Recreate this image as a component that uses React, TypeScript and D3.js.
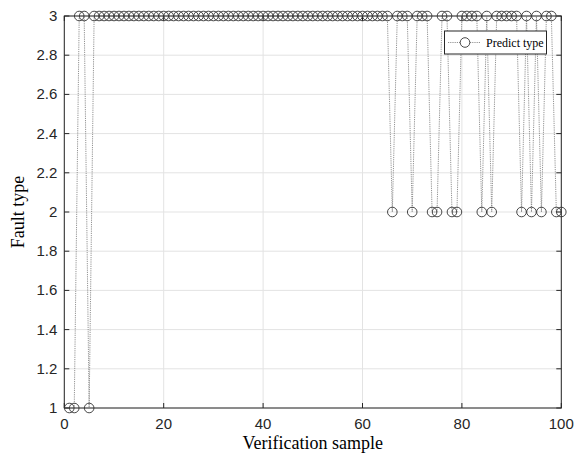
import React, { useEffect, useRef } from "react";
import * as d3 from "d3";

const samples: number[] = d3.range(1, 101);
const onesAt: number[] = [1, 2, 5];
const twosAt: number[] = [66, 70, 74, 75, 78, 79, 84, 86, 92, 94, 96, 99, 100];
const predicted: number[] = samples.map(s => (onesAt.includes(s) ? 1 : twosAt.includes(s) ? 2 : 3));
const xTicks: number[] = [0, 20, 40, 60, 80, 100];
const yTicks: number[] = [1, 1.2, 1.4, 1.6, 1.8, 2, 2.2, 2.4, 2.6, 2.8, 3];

const W = 574;
const H = 456;

const App = () => {
  const ref = useRef<SVGSVGElement>(null);

  useEffect(() => {
    const svg = d3.select(ref.current);
    svg.selectAll("*").remove();

    const left = 64.3, right = 561.3, top = 16, bottom = 408;
    const x = d3.scaleLinear().domain([0, 100]).range([left, right]);
    const y = d3.scaleLinear().domain([1, 3]).range([bottom, top]);

    svg.append("rect").attr("width", W).attr("height", H).attr("fill", "#fff");

    // grid
    const grid = svg.append("g").attr("stroke", "#e3e3e3").attr("stroke-width", 1);
    grid.selectAll(".gx").data(xTicks).enter().append("line")
      .attr("x1", d => x(d)).attr("x2", d => x(d)).attr("y1", top).attr("y2", bottom);
    grid.selectAll(".gy").data(yTicks).enter().append("line")
      .attr("x1", left).attr("x2", right).attr("y1", d => y(d)).attr("y2", d => y(d));

    // axes box
    svg.append("rect")
      .attr("x", left).attr("y", top).attr("width", right - left).attr("height", bottom - top)
      .attr("fill", "none").attr("stroke", "#262626").attr("stroke-width", 1);

    const tl = 5;
    const ticks = svg.append("g").attr("stroke", "#262626").attr("stroke-width", 1);
    xTicks.forEach(t => {
      ticks.append("line").attr("x1", x(t)).attr("x2", x(t)).attr("y1", bottom).attr("y2", bottom - tl);
      ticks.append("line").attr("x1", x(t)).attr("x2", x(t)).attr("y1", top).attr("y2", top + tl);
    });
    yTicks.forEach(t => {
      ticks.append("line").attr("x1", left).attr("x2", left + tl).attr("y1", y(t)).attr("y2", y(t));
      ticks.append("line").attr("x1", right).attr("x2", right - tl).attr("y1", y(t)).attr("y2", y(t));
    });

    const tickFont = "'Liberation Sans', Arial, sans-serif";
    svg.append("g").selectAll("text").data(xTicks).enter().append("text")
      .attr("x", d => x(d)).attr("y", bottom + 21)
      .attr("text-anchor", "middle").attr("font-family", tickFont).attr("font-size", 15)
      .attr("fill", "#262626").text(d => String(d));
    svg.append("g").selectAll("text").data(yTicks).enter().append("text")
      .attr("x", left - 7).attr("y", d => y(d) + 5)
      .attr("text-anchor", "end").attr("font-family", tickFont).attr("font-size", 15)
      .attr("fill", "#262626").text(d => d3.format("~g")(d));

    const labelFont = "'Liberation Serif', 'Times New Roman', serif";
    svg.append("text").attr("x", (left + right) / 2).attr("y", 449)
      .attr("text-anchor", "middle").attr("font-family", labelFont).attr("font-size", 18)
      .attr("fill", "#000").text("Verification sample");
    svg.append("text").attr("transform", `translate(24,${(top + bottom) / 2}) rotate(-90)`)
      .attr("text-anchor", "middle").attr("font-family", labelFont).attr("font-size", 18)
      .attr("fill", "#000").text("Fault type");

    // series
    const line = d3.line<number>().x((d, i) => x(samples[i])).y(d => y(d));
    svg.append("path").datum(predicted).attr("d", line)
      .attr("fill", "none").attr("stroke", "#777").attr("stroke-width", 0.8)
      .attr("stroke-dasharray", "1.2,1");
    svg.append("g").selectAll("circle").data(predicted).enter().append("circle")
      .attr("cx", (d, i) => x(samples[i])).attr("cy", d => y(d)).attr("r", 4.8)
      .attr("fill", "none").attr("stroke", "#333").attr("stroke-width", 0.9);

    // legend
    const lg = svg.append("g");
    lg.append("rect").attr("x", 444.5).attr("y", 31).attr("width", 102).attr("height", 23)
      .attr("fill", "#fff").attr("stroke", "#262626").attr("stroke-width", 1);
    lg.append("line").attr("x1", 448).attr("x2", 481).attr("y1", 42.5).attr("y2", 42.5)
      .attr("stroke", "#777").attr("stroke-width", 0.8).attr("stroke-dasharray", "1.2,1");
    lg.append("circle").attr("cx", 465).attr("cy", 42.5).attr("r", 4.8)
      .attr("fill", "#fff").attr("stroke", "#333").attr("stroke-width", 0.9);
    lg.append("text").attr("x", 486).attr("y", 46.5).attr("font-family", labelFont)
      .attr("font-size", 12).attr("fill", "#000").text("Predict type");
  }, []);

  return (
    <svg ref={ref} width={W} height={H}
      style={{ display: "block", position: "absolute", left: 0, top: 0 }} />
  );
};

export default App;
